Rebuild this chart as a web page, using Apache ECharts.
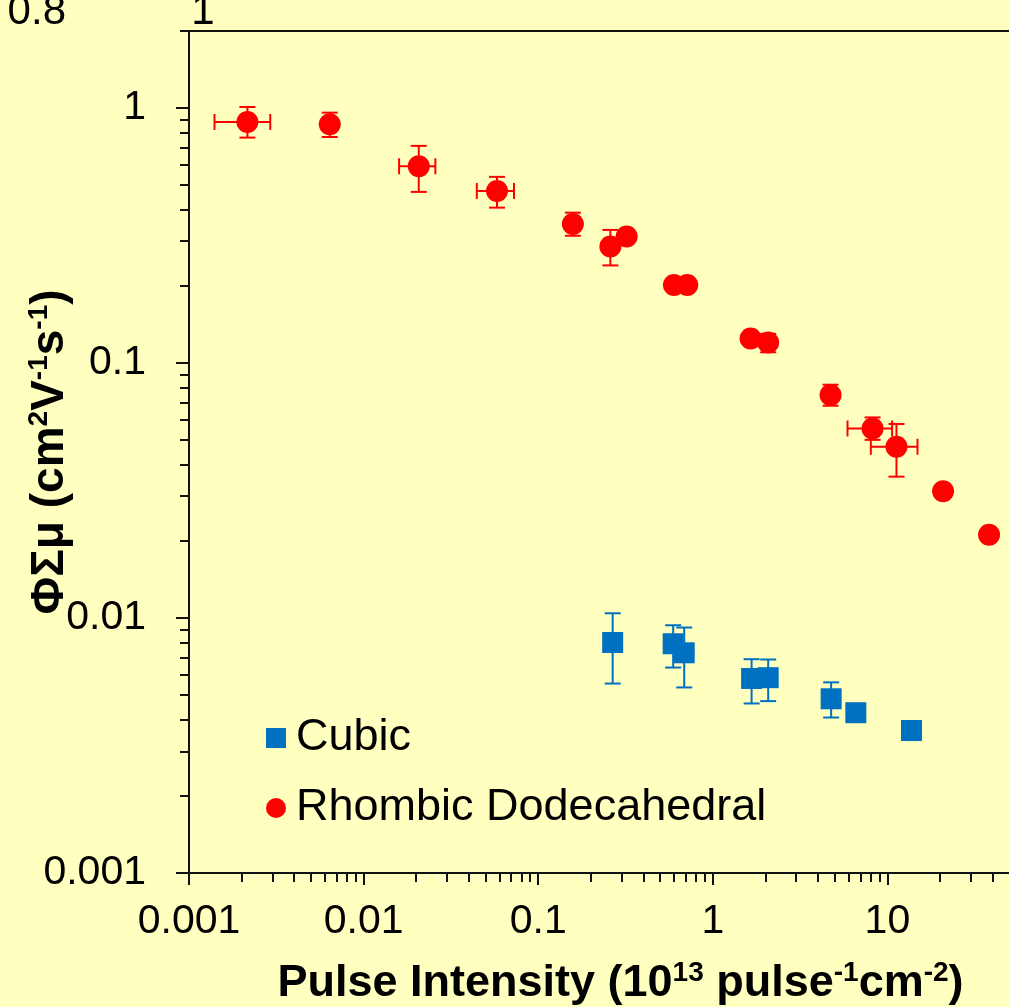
<!DOCTYPE html>
<html><head><meta charset="utf-8">
<script src="https://cdn.jsdelivr.net/npm/echarts@6/dist/echarts.min.js"></script>
<style>html,body{margin:0;padding:0;background:#FFFFBF;overflow:hidden}#c{width:1009px;height:1007px}</style>
</head><body><div id="c"></div>
<script>
// ---- data ----
const seriesNames = ['Cubic', 'Rhombic Dodecahedral'];

const cubicX     = [0.267, 0.593, 0.686, 1.668, 2.076, 4.762, 6.594, 13.74];
const cubicY     = [0.00801, 0.00792, 0.00730, 0.00579, 0.00583, 0.00482, 0.00425, 0.00362];
const cubicYLow  = [0.00553, 0.00639, 0.00534, 0.00462, 0.00472, 0.00407, null, null];
const cubicYHigh = [0.01043, 0.00936, 0.00917, 0.00689, 0.00687, 0.00559, null, null];

const rhombicX     = [0.00216, 0.00640, 0.0207, 0.0581, 0.158, 0.259, 0.321, 0.599, 0.714, 1.646, 2.076, 4.724, 8.22, 11.27, 20.84, 38.21];
const rhombicY     = [0.880, 0.862, 0.590, 0.472, 0.350, 0.286, 0.313, 0.202, 0.202, 0.1246, 0.1202, 0.0748, 0.0553, 0.0469, 0.0314, 0.0212];
const rhombicYLow  = [0.764, 0.768, 0.468, 0.406, 0.315, 0.241, null, null, null, null, 0.110, 0.0679, 0.0499, 0.0358, null, null];
const rhombicYHigh = [1.007, 0.957, 0.709, 0.536, 0.388, 0.332, null, null, null, null, 0.130, 0.0821, 0.0611, 0.0576, null, null];
const rhombicXLow  = [0.00140, null, 0.01597, 0.0445, null, null, null, null, null, null, null, null, 5.909, 8.035, null, null];
const rhombicXHigh = [0.00292, null, 0.02576, 0.0727, null, null, null, null, null, null, null, null, 10.64, 14.87, null, null];

const xMajorTicks = [0.001, 0.01, 0.1, 1, 10, 100];
const yMajorTicks = [0.001, 0.01, 0.1, 1];
const xRange = [0.001, 100];
const yRange = [0.001, 2];

// minor log ticks (2..9 within each decade)
function minorTicks(decades, lim) {
  const out = [];
  decades.forEach(d => { for (let k = 2; k <= 9; k++) { const v = +(d * k).toPrecision(3); if (v <= lim) out.push(v); } });
  return out;
}
const xMinorTicks = minorTicks([0.001, 0.01, 0.1, 1, 10], 100);
const yMinorTicks = minorTicks([0.001, 0.01, 0.1, 1], 2);

const FONT = '"Liberation Sans", Arial, Helvetica, sans-serif';
const RED = '#FF0000', BLUE = '#0070C0', AXIS = '#111';

function fmt(v) { return v >= 1 ? String(Math.round(v)) : String(+(+v).toPrecision(1)); }

function errData(xs, ys, xl, xh, yl, yh) {
  return xs.map((x, i) => [x, ys[i],
    xl ? (xl[i] == null ? NaN : xl[i]) : NaN,
    xh ? (xh[i] == null ? NaN : xh[i]) : NaN,
    yl[i] == null ? NaN : yl[i],
    yh[i] == null ? NaN : yh[i]]);
}

function errRender(color) {
  return function (params, api) {
    const x = api.value(0), y = api.value(1);
    const xl = api.value(2), xh = api.value(3), yl = api.value(4), yh = api.value(5);
    const st = { stroke: color, lineWidth: 2 };
    const cap = 8;
    const ch = [];
    if (!isNaN(yl) && !isNaN(yh)) {
      const a = api.coord([x, yl]), b = api.coord([x, yh]);
      ch.push({ type: 'line', shape: { x1: a[0], y1: a[1], x2: b[0], y2: b[1] }, style: st });
      ch.push({ type: 'line', shape: { x1: a[0] - cap, y1: a[1], x2: a[0] + cap, y2: a[1] }, style: st });
      ch.push({ type: 'line', shape: { x1: b[0] - cap, y1: b[1], x2: b[0] + cap, y2: b[1] }, style: st });
    }
    if (!isNaN(xl) && !isNaN(xh)) {
      const a = api.coord([xl, y]), b = api.coord([xh, y]);
      ch.push({ type: 'line', shape: { x1: a[0], y1: a[1], x2: b[0], y2: b[1] }, style: st });
      ch.push({ type: 'line', shape: { x1: a[0], y1: a[1] - cap, x2: a[0], y2: a[1] + cap }, style: st });
      ch.push({ type: 'line', shape: { x1: b[0], y1: b[1] - cap, x2: b[0], y2: b[1] + cap }, style: st });
    }
    return { type: 'group', children: ch };
  };
}

const chart = echarts.init(document.getElementById('c'), null, { renderer: 'canvas' });

const supStyle = { fontSize: 28, fontWeight: 'bold', fontFamily: FONT, color: '#000', verticalAlign: 'top', lineHeight: 28 };

chart.setOption({
  backgroundColor: '#FFFFBF',
  animation: false,
  textStyle: { fontFamily: FONT },
  grid: { left: 189, top: 31, right: -53, bottom: 134, containLabel: false, outerBoundsMode: 'none',
          show: true, borderColor: AXIS, borderWidth: 2, backgroundColor: 'transparent' },
  legend: {
    orient: 'vertical', left: 266, top: 713, padding: 0, itemGap: 20,
    itemWidth: 20, itemHeight: 20,
    data: [{ name: seriesNames[0], icon: 'rect' }, { name: seriesNames[1], icon: 'circle' }],
    textStyle: { fontSize: 45, color: '#000', fontFamily: FONT, lineHeight: 50, padding: [0, 0, 0, 5] }
  },
  graphic: [
    { type: 'text', x: 66, y: 12, style: { text: '0.8', fontSize: 42, fontFamily: FONT, fill: '#000', align: 'right', verticalAlign: 'middle' } },
    { type: 'text', x: 203, y: 12, style: { text: '1', fontSize: 42, fontFamily: FONT, fill: '#000', align: 'center', verticalAlign: 'middle' } }
  ],
  xAxis: [{
    type: 'log', logBase: 10, min: xRange[0], max: xRange[1], position: 'bottom',
    axisLine: { show: true, onZero: false, lineStyle: { color: AXIS, width: 2 } },
    axisTick: { show: true, inside: false, length: 12, lineStyle: { color: AXIS, width: 2 }, customValues: xMajorTicks },
    minorTick: { show: false },
    splitLine: { show: false },
    axisLabel: { show: true, customValues: xMajorTicks, formatter: fmt, fontSize: 41, color: '#000', fontFamily: FONT, margin: 28 },
    name: 'Pulse Intensity (10{sup|13} pulse{sup|-1}cm{sup|-2})',
    nameLocation: 'middle', nameGap: 86, nameMoveOverlap: false,
    nameTextStyle: { fontSize: 45, fontWeight: 'bold', color: '#000', fontFamily: FONT, lineHeight: 50,
                     padding: [0, 10, 0, 0], rich: { sup: supStyle } }
  }, {
    type: 'log', logBase: 10, min: xRange[0], max: xRange[1], position: 'bottom', gridIndex: 0,
    axisLine: { show: false, onZero: false },
    axisTick: { show: true, inside: false, length: 9, lineStyle: { color: AXIS, width: 2 }, customValues: xMinorTicks },
    axisLabel: { show: false }, splitLine: { show: false }
  }],
  yAxis: [{
    type: 'log', logBase: 10, min: yRange[0], max: yRange[1], position: 'left',
    axisLine: { show: true, onZero: false, lineStyle: { color: AXIS, width: 2 } },
    axisTick: { show: true, inside: false, length: 13, lineStyle: { color: AXIS, width: 2 }, customValues: yMajorTicks },
    minorTick: { show: false },
    splitLine: { show: false },
    axisLabel: { show: true, customValues: yMajorTicks, formatter: fmt, fontSize: 41, color: '#000', fontFamily: FONT, margin: 43 },
    name: 'ΦΣμ (cm{sup|2}V{sup|-1}s{sup|-1})',
    nameLocation: 'middle', nameGap: 114, nameMoveOverlap: false,
    nameTextStyle: { fontSize: 46, fontWeight: 'bold', color: '#000', fontFamily: FONT, lineHeight: 50, rich: { sup: supStyle } }
  }, {
    type: 'log', logBase: 10, min: yRange[0], max: yRange[1], position: 'left', gridIndex: 0,
    axisLine: { show: false, onZero: false },
    axisTick: { show: true, inside: false, length: 9, lineStyle: { color: AXIS, width: 2 }, customValues: yMinorTicks },
    axisLabel: { show: false }, splitLine: { show: false }
  }],
  series: [
    {
      name: 'cubicErr', type: 'custom', xAxisIndex: 0, yAxisIndex: 0, z: 1,
      renderItem: errRender(BLUE), encode: { x: 0, y: 1 },
      data: errData(cubicX, cubicY, null, null, cubicYLow, cubicYHigh), silent: true
    },
    {
      name: 'rhombicErr', type: 'custom', xAxisIndex: 0, yAxisIndex: 0, z: 1,
      renderItem: errRender(RED), encode: { x: 0, y: 1 },
      data: errData(rhombicX, rhombicY, rhombicXLow, rhombicXHigh, rhombicYLow, rhombicYHigh), silent: true
    },
    {
      name: seriesNames[0], type: 'scatter', xAxisIndex: 0, yAxisIndex: 0, z: 3,
      symbol: 'rect', symbolSize: 21, itemStyle: { color: BLUE, opacity: 1 },
      data: cubicX.map((x, i) => [x, cubicY[i]])
    },
    {
      name: seriesNames[1], type: 'scatter', xAxisIndex: 0, yAxisIndex: 0, z: 3,
      symbol: 'circle', symbolSize: 22, itemStyle: { color: RED, opacity: 1 },
      data: rhombicX.map((x, i) => [x, rhombicY[i]])
    }
  ]
});
</script>
</body></html>
